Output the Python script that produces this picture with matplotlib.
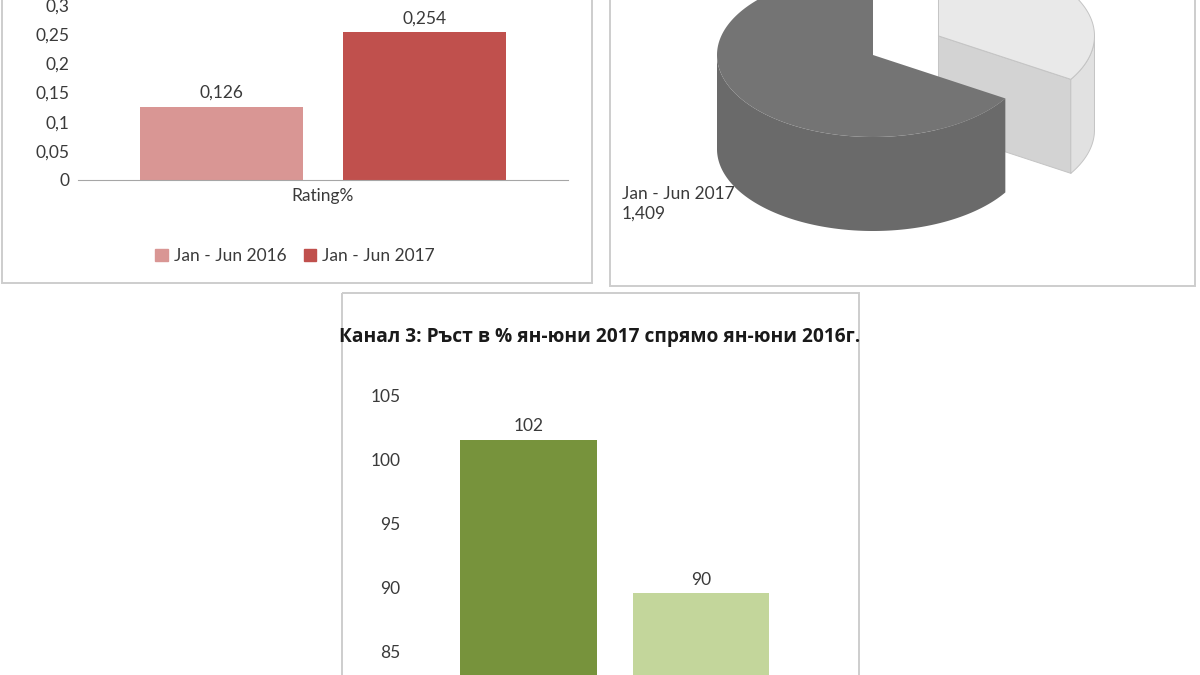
import matplotlib
matplotlib.use("Agg")
import matplotlib.pyplot as plt
import numpy as np
from matplotlib.patches import Patch, Polygon, Rectangle
from matplotlib.ticker import FuncFormatter

# --- panel 1: rating, both half-years
rating_periods = ["Jan - Jun 2016", "Jan - Jun 2017"]
rating_values = [0.126, 0.254]
rating_category = "Rating%"

# --- panel 2: 3d pie (top is cut off in the source, 2016 value estimated from the angle)
share_periods = ["Jan - Jun 2016", "Jan - Jun 2017"]
share_values = [0.722, 1.409]

# --- panel 3: growth in %
growth_title = "Канал 3: Ръст в % ян-юни 2017 спрямо ян-юни 2016г."
growth_values = [101.6, 89.6]
growth_ticks = [85, 90, 95, 100, 105]

W, H = 1200, 675
TEXT = "#3a3a3a"
FS = 12.5
LATIN = ["Lato", "DejaVu Sans"]
CYR = ["Open Sans", "DejaVu Sans"]

plt.rcParams["font.family"] = LATIN


def comma(v, fmt="{:g}"):
    return fmt.format(v).replace(".", ",")


def px_axes(fig, x0, y0, x1, y1):
    # pixel box, y measured from the top of the picture
    return fig.add_axes([x0 / W, 1 - y1 / H, (x1 - x0) / W, (y1 - y0) / H])


fig = plt.figure(figsize=(12, 6.75), dpi=100)

bg = fig.add_axes([0, 0, 1, 1])
bg.set_xlim(0, W)
bg.set_ylim(H, 0)
bg.set_axis_off()

# chart frames
for x0, y0, x1, y1 in [(2, -5, 592, 283), (610, -5, 1195, 286), (342, 293, 859, 690)]:
    bg.add_patch(Rectangle((x0, y0), x1 - x0, y1 - y0, fill=False, ec="#cdcdcd", lw=1.4))

# ---------------- panel 1 ----------------
ax1 = px_axes(fig, 78, 0, 568, 180)
ax1.patch.set_visible(False)
width, gap = 0.665, 0.165
offsets = [-(width + gap) / 2, (width + gap) / 2]
colors1 = ["#d99694", "#c0504d"]
for off, val, col, lab in zip(offsets, rating_values, colors1, rating_periods):
    ax1.bar(off, val, width=width, color=col, label=lab)
    ax1.annotate(comma(val, "{:.3f}"), (off, val), xytext=(0, 4), textcoords="offset points",
                 ha="center", va="bottom", fontsize=FS, color=TEXT)
ax1.set_xlim(-1, 1)
ax1.set_ylim(0, 180 / 583)
ax1.set_yticks([0, 0.05, 0.1, 0.15, 0.2, 0.25, 0.3])
ax1.yaxis.set_major_formatter(FuncFormatter(lambda v, p: comma(round(v, 2))))
ax1.set_xticks([0])
ax1.set_xticklabels([rating_category])
ax1.tick_params(length=0, labelsize=FS, colors=TEXT)
ax1.tick_params(axis="y", pad=6)
ax1.tick_params(axis="x", pad=6)
for s in ["top", "right", "left"]:
    ax1.spines[s].set_visible(False)
ax1.spines["bottom"].set_color("#a6a6a6")
handles = [Patch(color=c, label=l) for c, l in zip(colors1, rating_periods)]
ax1.legend(handles=handles, loc="center", bbox_to_anchor=(295 / W, 1 - 256 / H),
           bbox_transform=fig.transFigure, ncol=2, frameon=False, fontsize=FS,
           handlelength=0.7, handleheight=0.7, handletextpad=0.35, columnspacing=1.0,
           labelcolor=TEXT)

# ---------------- panel 2: 3d pie ----------------
cx, cy, ra, rb, depth, explode = 873, 55, 156, 82, 94, 0.48
total = sum(share_values)
bounds = 90 - 360 * np.cumsum([0] + share_values) / total
pie_style = [
    dict(top="#e9e9e9", wall="#e1e1e1", face="#d3d3d3", edge="#c4c4c4", exp=explode),
    dict(top="#747474", wall="#6a6a6a", face="#6a6a6a", edge="none", exp=0.0),
]


def rim(t, ox, oy, dz=0.0):
    r = np.radians(t)
    return np.column_stack([ox + ra * np.cos(r), oy - rb * np.sin(r) + dz])


for i, st in enumerate(pie_style):
    hi, lo = bounds[i], bounds[i + 1]
    mid = np.radians((hi + lo) / 2)
    ox = cx + st["exp"] * ra * np.cos(mid)
    oy = cy - st["exp"] * rb * np.sin(mid)
    kw = dict(ec=st["edge"], lw=0.7, joinstyle="round")
    # cut faces turned toward the viewer
    for t, normal in [(lo, lo - 90), (hi, hi + 90)]:
        if np.sin(np.radians(normal)) < -1e-6:
            p = rim([t], ox, oy)[0]
            face = [(ox, oy), tuple(p), (p[0], p[1] + depth), (ox, oy + depth)]
            bg.add_patch(Polygon(face, closed=True, fc=st["face"], **kw))
    # front part of the outer wall
    t = np.linspace(lo, hi, 400)
    t = t[np.sin(np.radians(t)) < 0]
    if len(t) > 1:
        wall = np.vstack([rim(t, ox, oy), rim(t[::-1], ox, oy, depth)])
        bg.add_patch(Polygon(wall, closed=True, fc=st["wall"], **kw))
    # top surface
    t = np.linspace(lo, hi, 400)
    top = np.vstack([[ox, oy], rim(t, ox, oy)])
    bg.add_patch(Polygon(top, closed=True, fc=st["top"], **kw))

bg.text(622, 204, f"{share_periods[1]}\n{comma(share_values[1], '{:.3f}')}",
        ha="left", va="center", fontsize=FS, color=TEXT, linespacing=1.3)

# ---------------- panel 3 ----------------
ax3 = px_axes(fig, 410, 380, 840, 675)
ax3.patch.set_visible(False)
colors3 = ["#77933c", "#c3d69b"]
xs = np.arange(len(growth_values))
ax3.bar(xs, growth_values, width=0.79, color=colors3)
for x, v in zip(xs, growth_values):
    ax3.annotate(f"{v:.0f}", (x, v), xytext=(0, 4), textcoords="offset points",
                 ha="center", va="bottom", fontsize=FS, color=TEXT)
ax3.set_xlim(-0.687, 1.806)
ax3.set_ylim(100 - (675 - 460) / 12.8, 100 + (460 - 380) / 12.8)
ax3.set_yticks(growth_ticks)
ax3.set_xticks([])
ax3.tick_params(length=0, labelsize=FS, colors=TEXT, pad=7)
for s in ax3.spines.values():
    s.set_visible(False)

fig.text(600 / W, 1 - 337 / H, growth_title, ha="center", va="center",
         fontsize=13.8, fontweight="bold", color="#1a1a1a", family=CYR)

fig.savefig("out.png", dpi=100)
